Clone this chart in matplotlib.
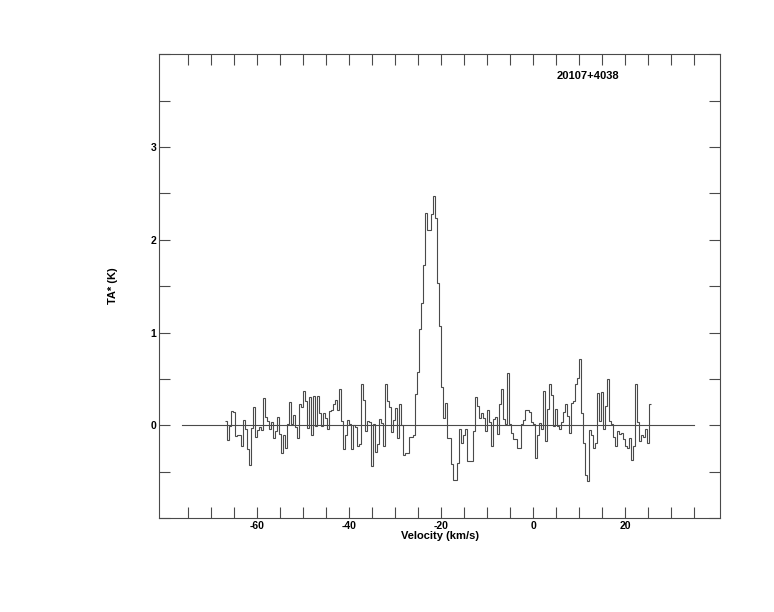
import numpy as np
import matplotlib
matplotlib.use("Agg")
import matplotlib.pyplot as plt
from matplotlib.ticker import MultipleLocator, FuncFormatter

plt.rcParams['font.family'] = ['Liberation Sans', 'DejaVu Sans']

source = '20107+4038'

# channel grid (km/s)
v_first = -66.96
chan_width = 0.4348

# antenna temperature per channel (K)
ta = [0.05, -0.16, -0.01, 0.15, 0.14, -0.12, -0.10, -0.11, -0.22, 0.06,
      -0.04, -0.26, -0.43, -0.03, 0.20, -0.13, -0.05, -0.02, -0.05, 0.29,
      0.09, 0.05, -0.04, 0.04, -0.14, -0.06, 0.09, -0.09, -0.30, -0.11,
      -0.24, 0.01, 0.25, 0.01, 0.11, -0.02, -0.14, 0.23, 0.20, 0.37,
      0.26, -0.03, 0.31, -0.10, 0.32, -0.01, 0.32, 0.13, -0.01, 0.13,
      0.08, -0.04, 0.15, 0.16, 0.23, 0.27, 0.16, 0.39, 0.05, -0.26,
      -0.10, 0.06, 0.01, -0.26, 0.00, -0.02, -0.22, -0.20, 0.45, 0.27,
      -0.06, 0.05, 0.04, -0.44, 0.01, -0.29, -0.20, 0.07, 0.02, -0.22,
      0.44, 0.26, 0.20, -0.07, 0.06, 0.19, -0.14, 0.23, 0.00, -0.32,
      -0.30, -0.30, -0.13, -0.13, -0.11, 0.34, 0.57, 1.04, 1.32, 1.73,
      2.29, 2.11, 2.11, 2.28, 2.47, 2.23, 1.53, 1.07, 0.41, 0.08,
      0.24, -0.14, -0.14, -0.42, -0.59, -0.59, -0.41, -0.04, -0.19, -0.10,
      -0.04, -0.38, -0.38, -0.38, -0.06, 0.30, 0.21, 0.08, 0.13, 0.08,
      -0.06, 0.16, 0.04, -0.22, 0.07, 0.09, -0.09, 0.23, 0.39, 0.07,
      0.01, 0.56, 0.01, -0.08, -0.15, -0.15, -0.24, -0.24, 0.01, 0.06,
      0.16, 0.16, 0.14, 0.03, 0.01, -0.35, -0.10, 0.02, -0.04, 0.37,
      -0.17, 0.17, 0.44, 0.33, -0.01, 0.17, -0.01, -0.04, 0.03, 0.14,
      0.23, 0.10, -0.08, 0.24, 0.26, 0.44, 0.51, 0.71, 0.13, -0.19,
      -0.54, -0.60, -0.05, -0.10, -0.25, -0.19, 0.35, 0.05, 0.36, -0.04,
      0.21, 0.50, 0.05, 0.01, -0.13, -0.22, -0.06, -0.09, -0.08, -0.15,
      -0.22, -0.24, -0.14, -0.37, -0.22, 0.45, 0.03, -0.17, -0.11, -0.13,
      -0.04, -0.19, 0.23]

baseline_range = [-76.3, 34.9]

edges = v_first + chan_width * np.arange(len(ta) + 1)

fig = plt.figure(figsize=(7.74, 6.12), dpi=100)
ax = fig.add_axes([159.3 / 774, 1 - 518 / 612, 560.7 / 774, 463.7 / 612])

col = '#4a4a4a'
ax.stairs(ta, edges, color=col, lw=0.8, baseline=None)
ax.plot(baseline_range, [0, 0], color=col, lw=0.8)

ax.set_xlim(-81.3, 40.6)
ax.set_ylim(-1, 4)

ax.set_xticks(np.arange(-75, 36, 5))
ax.yaxis.set_major_locator(MultipleLocator(0.5))
ax.xaxis.set_major_formatter(FuncFormatter(lambda v, p: f'{v:.0f}' if round(v) % 20 == 0 else ''))
ax.yaxis.set_major_formatter(FuncFormatter(lambda v, p: f'{v:.0f}' if abs(v - round(v)) < 1e-6 and 0 <= v <= 3 else ''))

ax.tick_params(direction='in', length=8, width=0.8, color=col, top=True, right=True,
               labelsize=7.5, pad=2)
for lab in ax.get_xticklabels() + ax.get_yticklabels():
    lab.set_fontweight('bold')
for s in ax.spines.values():
    s.set_color(col)
    s.set_linewidth(0.8)

ax.set_xlabel('Velocity (km/s)', fontsize=8, fontweight='bold')
ax.xaxis.set_label_coords(0.5, -0.028)
ax.text(-0.0825, 0.5, 'TA* (K)', transform=ax.transAxes, rotation=90,
        ha='center', va='center', fontsize=8, fontweight='bold')
ax.text(0.7646, 0.954, source, transform=ax.transAxes, ha='center', va='center',
        fontsize=8, fontweight='bold')

fig.savefig('out.png', dpi=100)
